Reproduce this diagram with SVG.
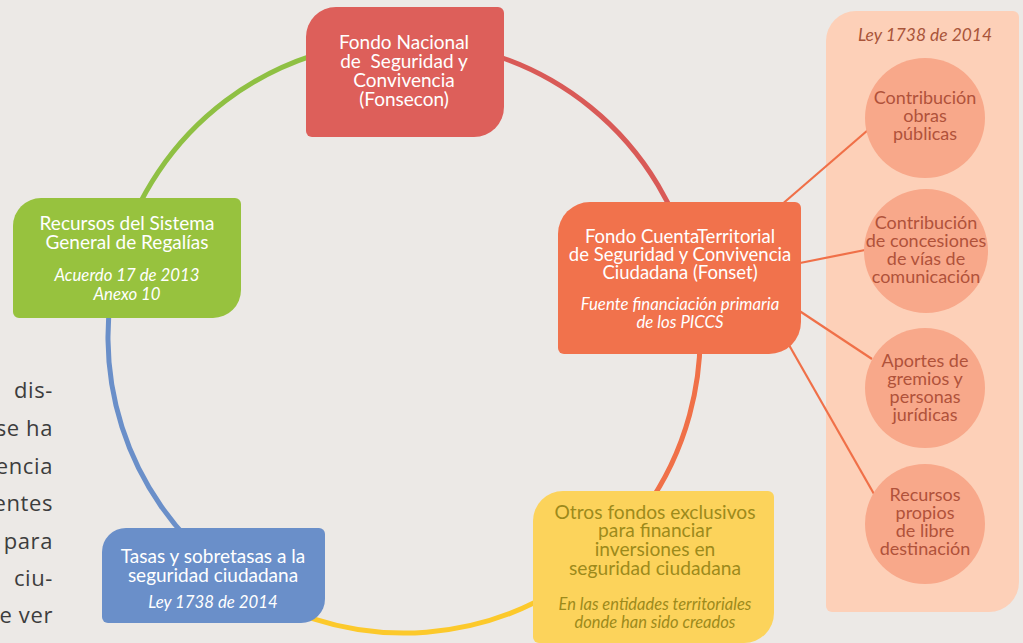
<svg xmlns="http://www.w3.org/2000/svg" width="1023" height="643" viewBox="0 0 1023 643">
  <style>
    text { font-family: Lato, "Open Sans", "Liberation Sans", sans-serif; text-anchor: middle; }
    .t { font-size: 19px; fill: #ffffff; }
    .tn { font-size: 18.5px; fill: #ffffff; }
    .ti { font-size: 16.8px; font-style: italic; fill: #ffffff; }
    .ty { font-size: 19.2px; fill: #9d8a1b; }
    .tyi { font-size: 16.5px; font-style: italic; fill: #9d8a1b; }
    .ring { fill: none; stroke-width: 5; stroke-linecap: butt; }
    .link { stroke: #f07048; stroke-width: 2.2; fill: none; }
    .bubble { fill: #f8a88a; }
    .bt { font-size: 18px; fill: #b0523a; }
    .side { font-family: "Open Sans", Lato, "Liberation Sans", sans-serif; font-size: 22px; letter-spacing: 0.6px; fill: #3d3d3d; text-anchor: end; }
  </style>
  <rect x="0" y="0" width="1023" height="643" fill="#ece9e6"/>

  <!-- body text running along the left margin -->
  <g id="margin-text">
    <text class="side" x="53" y="398">dis-</text>
    <text class="side" x="53" y="436">se ha</text>
    <text class="side" x="53" y="474">encia</text>
    <text class="side" x="53" y="511">entes</text>
    <text class="side" x="53" y="549">para</text>
    <text class="side" x="53" y="586">ciu-</text>
    <text class="side" x="53" y="623">e ver</text>
  </g>

  <!-- side panel: Ley 1738 de 2014 -->
  <g id="panel-ley">
    <path d="M856,11 H1013 A6,6 0 0 1 1019,17 V582 A30,30 0 0 1 989,612 H832 A6,6 0 0 1 826,606 V41 A30,30 0 0 1 856,11 Z" fill="#fdd0b8"/>
    <text x="925" y="41" style="font-size:17.4px;font-style:italic;fill:#a9553a">Ley 1738 de 2014</text>
  </g>

  <!-- connectors: ring segments and panel links -->
  <g id="connectors">
    <path class="ring" stroke="#8fc043" d="M119.3,255.9 A296,296 0 0 1 404,41"/>
    <path class="ring" stroke="#d95a57" d="M404,41 A296,296 0 0 1 693.5,275.5"/>
    <path class="ring" stroke="#f07048" d="M693.5,275.5 A296,296 0 0 1 621.9,537.4"/>
    <path class="ring" stroke="#fcc92b" d="M621.9,537.4 A296,296 0 0 1 218.9,568"/>
    <path class="ring" stroke="#6a8fc9" d="M218.9,568 A296,296 0 0 1 119.3,255.9"/>
    <line class="link" x1="780" y1="206" x2="868" y2="130"/>
    <line class="link" x1="795" y1="264" x2="865" y2="250"/>
    <line class="link" x1="795" y1="308" x2="872" y2="359"/>
    <line class="link" x1="785" y1="338" x2="874" y2="494"/>
  </g>

  <g id="fonsecon">
    <path d="M336,7 H498 A6,6 0 0 1 504,13 V107 A30,30 0 0 1 474,137 H312 A6,6 0 0 1 306,131 V37 A30,30 0 0 1 336,7 Z" fill="#dd5f5a"/>
    <text class="t" x="404" y="49">Fondo Nacional</text>
    <text class="t" x="404" y="68" xml:space="preserve">de  Seguridad y</text>
    <text class="t" x="404" y="87">Convivencia</text>
    <text class="t" x="404" y="106">(Fonsecon)</text>
  </g>

  <g id="fonset">
    <path d="M590,202 H795 A6,6 0 0 1 801,208 V322 A32,32 0 0 1 769,354 H564 A6,6 0 0 1 558,348 V234 A32,32 0 0 1 590,202 Z" fill="#f1724c"/>
    <text class="tn" x="680" y="243">Fondo CuentaTerritorial</text>
    <text class="tn" x="680" y="261">de Seguridad y Convivencia</text>
    <text class="tn" x="680" y="279">Ciudadana (Fonset)</text>
    <text class="ti" x="680" y="310">Fuente financiación primaria</text>
    <text class="ti" x="680" y="328">de los PICCS</text>
  </g>

  <g id="regalias">
    <path d="M41,198 H235 A6,6 0 0 1 241,204 V290 A28,28 0 0 1 213,318 H19 A6,6 0 0 1 13,312 V226 A28,28 0 0 1 41,198 Z" fill="#97c23e"/>
    <text class="t" x="127" y="230">Recursos del Sistema</text>
    <text class="t" x="127" y="249">General de Regalías</text>
    <text class="ti" x="127" y="281">Acuerdo 17 de 2013</text>
    <text class="ti" x="127" y="300">Anexo 10</text>
  </g>

  <g id="tasas">
    <path d="M126,528 H319 A6,6 0 0 1 325,534 V599 A24,24 0 0 1 301,623 H108 A6,6 0 0 1 102,617 V552 A24,24 0 0 1 126,528 Z" fill="#6a8fc9"/>
    <text class="t" x="213" y="563">Tasas y sobretasas a la</text>
    <text class="t" x="213" y="582">seguridad ciudadana</text>
    <text class="ti" x="213" y="608">Ley 1738 de 2014</text>
  </g>

  <g id="otros-fondos">
    <path d="M563,491 H768 A6,6 0 0 1 774,497 V613 A30,30 0 0 1 744,643 H539 A6,6 0 0 1 533,637 V521 A30,30 0 0 1 563,491 Z" fill="#fcd35b"/>
    <text class="ty" x="655" y="519">Otros fondos exclusivos</text>
    <text class="ty" x="655" y="537">para financiar</text>
    <text class="ty" x="655" y="556">inversiones en</text>
    <text class="ty" x="655" y="575">seguridad ciudadana</text>
    <text class="tyi" x="655" y="610">En las entidades territoriales</text>
    <text class="tyi" x="655" y="628">donde han sido creados</text>
  </g>

  <g id="obras-publicas">
    <circle class="bubble" cx="925" cy="118" r="60"/>
    <text class="bt" x="925" y="104">Contribución</text>
    <text class="bt" x="925" y="122">obras</text>
    <text class="bt" x="925" y="140">públicas</text>
  </g>

  <g id="concesiones">
    <circle class="bubble" cx="926" cy="251" r="62"/>
    <text class="bt" x="926" y="229">Contribución</text>
    <text class="bt" x="926" y="247">de concesiones</text>
    <text class="bt" x="926" y="265">de vías de</text>
    <text class="bt" x="926" y="283">comunicación</text>
  </g>

  <g id="aportes">
    <circle class="bubble" cx="925" cy="388" r="60"/>
    <text class="bt" x="925" y="367">Aportes de</text>
    <text class="bt" x="925" y="385">gremios y</text>
    <text class="bt" x="925" y="403">personas</text>
    <text class="bt" x="925" y="421">jurídicas</text>
  </g>

  <g id="recursos-propios">
    <circle class="bubble" cx="925" cy="524" r="60"/>
    <text class="bt" x="925" y="501">Recursos</text>
    <text class="bt" x="925" y="519">propios</text>
    <text class="bt" x="925" y="537">de libre</text>
    <text class="bt" x="925" y="555">destinación</text>
  </g>
</svg>
